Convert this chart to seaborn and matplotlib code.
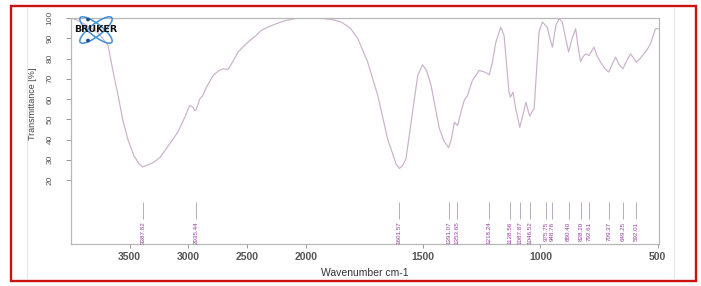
import numpy as np
import matplotlib
matplotlib.use("Agg")
import matplotlib.pyplot as plt
import seaborn as sns
from matplotlib.patches import Rectangle, Ellipse, Circle

# spectrum (wavenumber cm-1, transmittance %)
wavenumber = [4000, 3950, 3900, 3840, 3796, 3750, 3719, 3685, 3643, 3600,
              3558, 3515, 3464, 3420, 3388, 3350, 3300, 3240, 3175, 3090, 3030,
              2990, 2960, 2948, 2935, 2903, 2889, 2880, 2846, 2790, 2740,
              2705, 2662, 2620, 2577, 2492, 2430, 2378, 2322, 2251, 2180,
              2095, 2010, 1960, 1920, 1880, 1849, 1810, 1778, 1736, 1693,
              1651, 1615, 1601, 1588, 1573, 1545, 1523, 1502, 1485, 1466,
              1431, 1410, 1391, 1380, 1367, 1353, 1340, 1325, 1311, 1290,
              1261, 1235, 1218, 1205, 1190, 1169, 1155, 1145, 1134, 1128,
              1117, 1105, 1088, 1075, 1062, 1046, 1035, 1027, 1016, 1006,
              992, 985, 976, 971, 960, 949, 935, 921, 907, 893,
              880, 865, 850, 840, 829, 818, 807, 793, 772, 760,
              744, 725, 709, 695, 680, 665, 649, 632, 616, 602,
              592, 575, 560, 545, 531, 510, 496]
transmittance = [100, 99, 97.5, 95.5, 94, 91.5, 89, 86.6, 74, 62,
                 49.5, 40, 32, 28, 26.5, 27.3, 28.6, 31.2, 36.6, 43.6, 51,
                 56.8, 56, 54.3, 54.5, 60, 60.9, 61.5, 65.8, 71.6, 74,
                 74.9, 74.6, 78.5, 83.2, 88.1, 91, 93.9, 95.5, 97.2, 98.6,
                 99.7, 100, 100, 99.7, 99, 98, 95, 89.8, 78.2, 61.7,
                 40.2, 27.9, 25.7, 27, 30.4, 53.5, 71.6, 76.9, 74, 66.7,
                 45.5, 39, 36, 40, 48.5, 46.9, 53, 59.3, 61.7, 69.2,
                 74.1, 73.2, 72, 78, 88.1, 95.5, 91.4, 78, 63.4, 60.9,
                 63.4, 55, 46, 52, 58.4, 51.5, 54, 55.1, 75, 93.1,
                 98, 97.2, 96, 95.5, 90, 85.6, 96, 99.7, 98, 90,
                 83.2, 90, 94.7, 86, 78.5, 81, 82.3, 81.5, 85.6, 81.5,
                 78.2, 75, 73.3, 77, 80.7, 77, 74.9, 79, 82.3, 80,
                 78.2, 80, 82.3, 84.5, 87.3, 94.7, 94.7]

peaks = [3387.82, 2935.44, 1601.57, 1391.07, 1353.65, 1218.24, 1128.56,
         1087.87, 1046.52, 975.75, 948.76, 880.40, 828.20, 792.61,
         709.37, 649.25, 592.01]

x_ticks = [3500, 3000, 2500, 2000, 1500, 1000, 500]
y_ticks = [20, 30, 40, 50, 60, 70, 80, 90, 100]


# OPUS style axis: region above 2000 cm-1 compressed by 2
def fwd(x):
    x = np.asarray(x, dtype=float)
    return np.where(x > 2000, 2000 + (x - 2000) / 2, x)


def inv(t):
    t = np.asarray(t, dtype=float)
    return np.where(t > 2000, 2000 + 2 * (t - 2000), t)


sns.set_style("white")
plt.rcParams["font.family"] = ["Liberation Sans", "DejaVu Sans"]

W, H = 701, 286
fig = plt.figure(figsize=(W / 100, H / 100), dpi=100)
ax = fig.add_axes([71 / W, 1 - 244 / H, 588 / W, 226 / H])

sns.lineplot(x=wavenumber, y=transmittance, ax=ax, color="#cbb0cd",
             linewidth=0.85, estimator=None, sort=False)

ax.set_xscale("function", functions=(fwd, inv))
ax.set_xlim(4000, 495)
ax.set_ylim(-11.6, 100)
ax.set_xticks(x_ticks)
ax.set_xticklabels([str(v) for v in x_ticks])
ax.set_yticks(y_ticks)
ax.set_yticklabels([str(v) for v in y_ticks], rotation=90, va="center")

ax.tick_params(axis="x", length=3, width=0.7, color="#999999", pad=3,
               labelsize=7.5, labelcolor="#555555", bottom=True)
ax.tick_params(axis="y", length=3.5, width=0.7, color="#999999", pad=9,
               labelsize=6, labelcolor="#555555", left=True)
for lab in ax.get_xticklabels():
    lab.set_fontweight("bold")

for sp in ax.spines.values():
    sp.set_color("#b8b8b8")
    sp.set_linewidth(0.9)

ax.set_xlabel("Wavenumber cm-1", fontsize=7.5, color="#333333")
ax.xaxis.set_label_coords(0.5, -0.105)
ax.set_ylabel("Transmittance [%]", fontsize=6.5, color="#444444")
ax.yaxis.set_label_coords(-0.058, 0.62)

# peak picks
ax.vlines(peaks, 0.5, 9.0, color="#b9a9c0", linewidth=0.7)
for p in peaks:
    ax.text(p, -0.6, f"{p:.2f}", rotation=90, ha="center", va="top",
            fontsize=4.5, color="#9a3aa0")

# overlay in pixel coords for frame and logo
ov = fig.add_axes([0, 0, 1, 1], zorder=5)
ov.set_xlim(0, W)
ov.set_ylim(H, 0)
ov.axis("off")
ov.patch.set_alpha(0)
ov.plot([27, 27], [7, 279], color="#e6e6e6", linewidth=0.8)
ov.plot([674, 674], [7, 279], color="#e6e6e6", linewidth=0.8)
ov.add_patch(Rectangle((11, 5.5), 685, 275.5, fill=False,
                       edgecolor="#cc1111", linewidth=1.7))

for ang in (38, -38):
    ov.add_patch(Ellipse((96, 30), 40, 12, angle=ang, fill=False,
                         edgecolor="#3d8fd8", linewidth=1.1))
ov.add_patch(Circle((88, 19.5), 1.2, color="#1f4f9a"))
ov.add_patch(Circle((88, 40.5), 1.2, color="#1f4f9a"))
ov.text(96, 29.5, "BRUKER", ha="center", va="center", fontsize=6.8,
        fontweight="bold", color="#111111", family="DejaVu Sans")

fig.savefig("out.png", dpi=100)
